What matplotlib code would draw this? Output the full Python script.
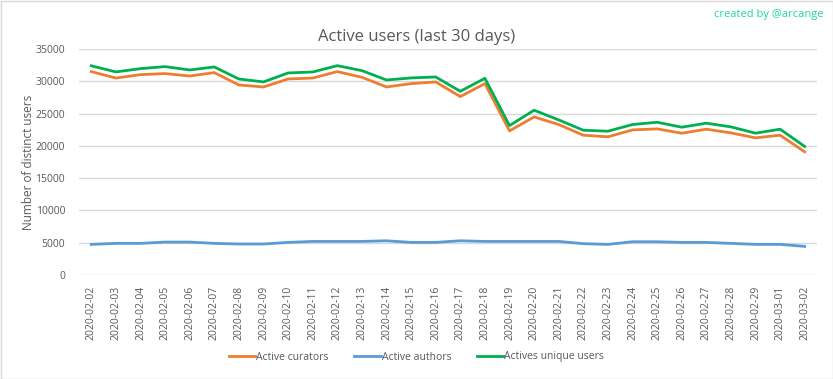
import numpy as np
import matplotlib.pyplot as plt
from matplotlib.patches import Rectangle

dates = ['2020-02-02', '2020-02-03', '2020-02-04', '2020-02-05', '2020-02-06',
         '2020-02-07', '2020-02-08', '2020-02-09', '2020-02-10', '2020-02-11',
         '2020-02-12', '2020-02-13', '2020-02-14', '2020-02-15', '2020-02-16',
         '2020-02-17', '2020-02-18', '2020-02-19', '2020-02-20', '2020-02-21',
         '2020-02-22', '2020-02-23', '2020-02-24', '2020-02-25', '2020-02-26',
         '2020-02-27', '2020-02-28', '2020-02-29', '2020-03-01', '2020-03-02']

curators = [31500, 30500, 31030, 31190, 30820, 31340, 29430, 29120, 30360, 30500,
            31500, 30620, 29120, 29640, 29900, 27630, 29640, 22320, 24480, 23300,
            21650, 21400, 22470, 22630, 21960, 22580, 22010, 21240, 21650, 19070]

authors = [4740, 4900, 4900, 5100, 5100, 4900, 4800, 4800, 5050, 5200,
           5200, 5200, 5300, 5050, 5050, 5300, 5200, 5200, 5200, 5200,
           4850, 4740, 5150, 5150, 5050, 5050, 4900, 4740, 4740, 4430]

unique_users = [32400, 31450, 31960, 32270, 31750, 32220, 30360, 29900, 31290, 31440,
                32420, 31650, 30200, 30520, 30670, 28450, 30460, 23140, 25520, 24020,
                22420, 22270, 23300, 23660, 22890, 23510, 22940, 21960, 22580, 19900]

plt.rcParams['font.family'] = ['Open Sans', 'DejaVu Sans']
txt = '#595959'

fig = plt.figure(figsize=(8.33, 3.79), dpi=100)
ax = fig.add_axes([79 / 833, 1 - 275 / 379, (817 - 79) / 833, (275 - 49) / 379])

x = np.arange(len(dates))
ax.plot(x, curators, color='#ED7D31', lw=2, label='Active curators')
ax.plot(x, authors, color='#5B9BD5', lw=2, label='Active authors')
ax.plot(x, unique_users, color='#00B050', lw=2, label='Actives unique users')

ax.set_xlim(-0.5, len(dates) - 0.5)
ax.set_ylim(0, 35000)
ax.set_yticks(np.arange(0, 35001, 5000))
ax.set_xticks(x)
ax.set_xticklabels(dates, rotation=90)
ax.tick_params(axis='both', length=0, colors=txt, labelsize=7.5)
ax.tick_params(axis='y', pad=10)
ax.tick_params(axis='x', pad=8)
ax.grid(axis='y', color='#D9D9D9', lw=1)
ax.set_axisbelow(True)
for s in ax.spines.values():
    s.set_visible(False)

ax.set_ylabel('Number of distinct users', color=txt, fontsize=8.5, labelpad=0)
fig.text(0.5, 1 - 37 / 379, 'Active users (last 30 days)', ha='center', va='center',
         fontsize=12, color=txt)
fig.text(823 / 833, 1 - 14 / 379, 'created by @arcange', ha='right', va='center',
         fontsize=8, color='#1CD9A0')

fig.legend(loc='center', bbox_to_anchor=(0.5, 1 - 357 / 379), ncol=3, frameon=False,
           fontsize=7.5, labelcolor=txt, handlelength=2.5, handletextpad=0.1,
           columnspacing=2.5)

fig.patches.append(Rectangle((0.5 / 833, 0.5 / 379), 1 - 1 / 833, 1 - 1 / 379,
                             transform=fig.transFigure, fill=False,
                             edgecolor='#D9D9D9', lw=1))

fig.savefig('out.png', dpi=100)
